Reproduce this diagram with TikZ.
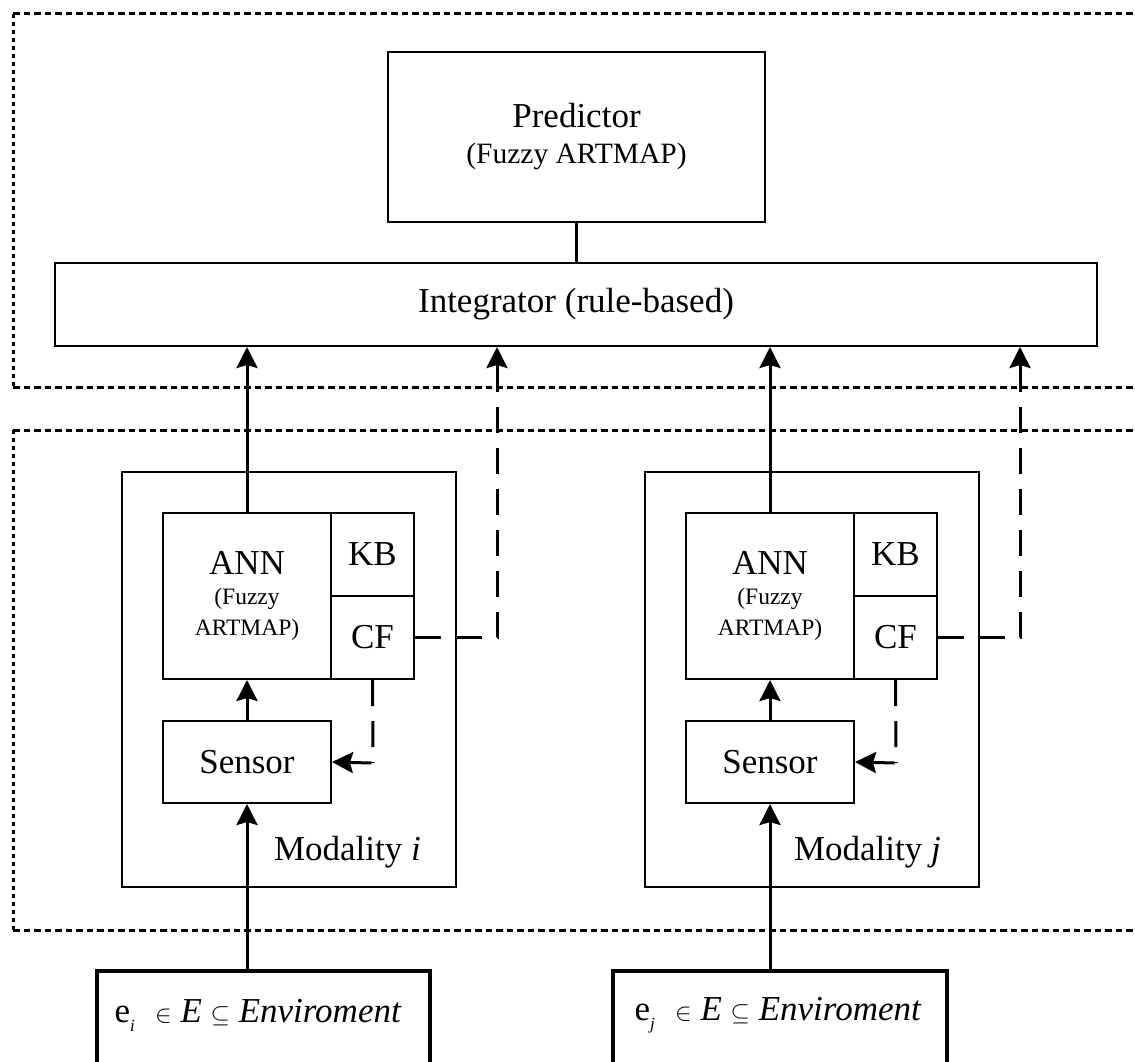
\documentclass[tikz,border=0pt]{standalone}
\usepackage{fontspec}
\setmainfont{Liberation Serif}
\usetikzlibrary{arrows.meta}
\newcommand\fsA{\fontsize{35}{40}\selectfont}
\newcommand\fsB{\fontsize{35}{40}\selectfont}
\newcommand\fsC{\fontsize{29.5}{36}\selectfont}
\newcommand\fsD{\fontsize{23.5}{29}\selectfont}
\begin{document}
\begin{tikzpicture}[x=1pt,y=-1pt,
  blk/.style={draw, line width=2pt, inner sep=0pt, align=center},
  arr/.style={line width=3pt, -{Stealth[length=21pt,width=21pt,inset=3pt]}},
  dsh/.style={line width=3pt, dash pattern=on 26pt off 15pt},
  dotH/.style={line width=3pt, dash pattern=on 6.5pt off 4pt},
  dotV/.style={line width=3pt, dash pattern=on 4pt off 4pt},
  envbox/.style={line width=3.5pt},
  lbl/.style={inner sep=0pt}]
\useasboundingbox (0,0) rectangle (1135,1062);
% dotted frames
\draw[dotH] (13,14) -- (1135,14);
\draw[dotH] (13,387) -- (1135,387);
\draw[dotV] (13,14) -- (13,387);
\draw[dotH] (13,430) -- (1135,430);
\draw[dotH] (13,930) -- (1135,930);
\draw[dotV] (13,430) -- (13,930);
% top nodes
\node[blk, minimum width=377pt, minimum height=170pt, font=\fsC] (pred) at (576.5,137)
  {{\fsA Predictor}\\(Fuzzy ARTMAP)};
\node[blk, minimum width=1042pt, minimum height=83pt, font=\fsA] (integ) at (576,304.5)
  {Integrator (rule-based)};
\draw[line width=3pt] (pred.south) -- (pred.south |- integ.north);
% module i
\node[blk, minimum width=334pt, minimum height=415pt] (modi) at (289,679.5) {};
\node[blk, minimum width=168pt, minimum height=166pt, font=\fsD] (anni) at (247,596)
  {{\fsB ANN}\\[1pt](Fuzzy\\[2pt]ARTMAP)};
\node[blk, minimum width=83pt, minimum height=83pt, font=\fsB] (kbi) at (372.5,554.5) {KB};
\node[blk, minimum width=83pt, minimum height=83pt, font=\fsB] (cfi) at (372.5,637.5) {CF};
\node[blk, minimum width=168pt, minimum height=82pt, font=\fsA] (seni) at (247,762) {Sensor};
\node[lbl, anchor=base east, font=\fsB] (mli) at (421,860) {Modality \textit{i}};
% module j
\node[blk, minimum width=334pt, minimum height=415pt] (modj) at (812,679.5) {};
\node[blk, minimum width=168pt, minimum height=166pt, font=\fsD] (annj) at (770,596)
  {{\fsB ANN}\\[1pt](Fuzzy\\[2pt]ARTMAP)};
\node[blk, minimum width=83pt, minimum height=83pt, font=\fsB] (kbj) at (895.5,554.5) {KB};
\node[blk, minimum width=83pt, minimum height=83pt, font=\fsB] (cfj) at (895.5,637.5) {CF};
\node[blk, minimum width=168pt, minimum height=82pt, font=\fsA] (senj) at (770,762) {Sensor};
\node[lbl, anchor=base east, font=\fsB] (mlj) at (941,860) {Modality \textit{j}};
% environment boxes
\draw[envbox] (97,1075) -- (97,971) -- (430,971) -- (430,1075);
\draw[envbox] (613,1075) -- (613,971) -- (947,971) -- (947,1075);
\node[lbl, font=\fsB] (envi) at (258,1015)
  {e\raisebox{-9pt}{\textit{\fontsize{17}{17}\selectfont i}}\,\, $\in$ \textit{E} $\subseteq$ \textit{Enviroment}};
\node[lbl, font=\fsB] (envj) at (778,1015)
  {e\raisebox{-9pt}{\textit{\fontsize{17}{17}\selectfont j}}\,\, $\in$ \textit{E} $\subseteq$ \textit{Enviroment}};
\coordinate (ei) at (247,971);
\coordinate (ej) at (770,971);
% connectors module i
\draw[arr] (ei) -- (seni.south);
\draw[arr] (seni.north) -- (anni.south);
\draw[arr] (anni.north) -- (anni.north |- integ.south);
\coordinate (ui) at (497,637.5);
\draw[dsh] (cfi.east) -- (ui) -- ([yshift=-26pt]ui |- integ.south);
\draw[arr] ([yshift=-28pt]ui |- integ.south) -- (ui |- integ.south);
\coordinate (ci) at (373,763);
\draw[dsh] (cfi.south) -- (ci);
\draw[arr] ([xshift=-1.5pt]ci) -- (seni.east);
% connectors module j
\draw[arr] (ej) -- (senj.south);
\draw[arr] (senj.north) -- (annj.south);
\draw[arr] (annj.north) -- (annj.north |- integ.south);
\coordinate (uj) at (1020,637.5);
\draw[dsh] (cfj.east) -- (uj) -- ([yshift=-26pt]uj |- integ.south);
\draw[arr] ([yshift=-28pt]uj |- integ.south) -- (uj |- integ.south);
\coordinate (cj) at (896,763);
\draw[dsh] (cfj.south) -- (cj);
\draw[arr] ([xshift=-1.5pt]cj) -- (senj.east);
\end{tikzpicture}
\end{document}
